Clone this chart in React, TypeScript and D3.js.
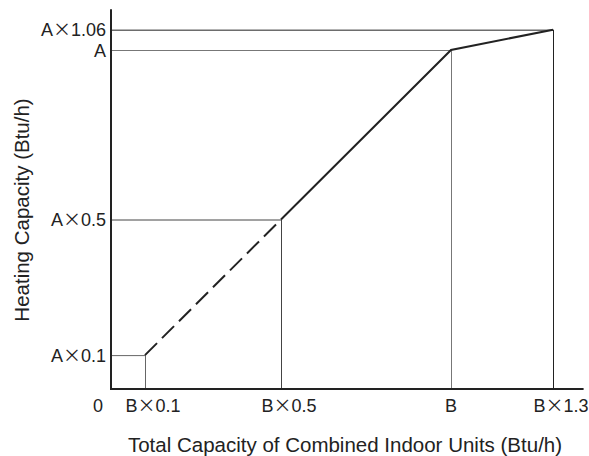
import React from "react";
import * as d3 from "d3";

const W = 589;
const H = 456;

// Data (relative units: x in multiples of B, y in multiples of A)
const curveX = [0.1, 0.5, 1.0, 1.3];
const curveY = [0.1, 0.5, 1.0, 1.06];
const dashedUntilIndex = 1; // segment 0->1 is dashed
const xTickValues = [0, 0.1, 0.5, 1.0, 1.3];
const xTickLabels = ["0", "B×0.1", "B×0.5", "B", "B×1.3"];
const yTickValues = [0.1, 0.5, 1.0, 1.06];
const yTickLabels = ["A×0.1", "A×0.5", "A", "A×1.06"];
const xTitle = "Total Capacity of Combined Indoor Units (Btu/h)";
const yTitle = "Heating Capacity (Btu/h)";

const FONT = "'Liberation Sans', Arial, Helvetica, sans-serif";
const TICK_FS = 18;

function Label({ text, x, y, anchor }: { text: string; x: number; y: number; anchor: string }) {
  const parts = text.split("×");
  if (parts.length === 1) {
    return (
      <text x={x} y={y} textAnchor={anchor} fontFamily={FONT} fontSize={TICK_FS} fill="#222">
        {text}
      </text>
    );
  }
  return (
    <text x={x} y={y} textAnchor={anchor} fontFamily={FONT} fontSize={TICK_FS} fill="#222">
      {parts[0]}
      <tspan fontFamily="'Noto Sans CJK JP'">×</tspan>
      {parts[1]}
    </text>
  );
}

export default function App() {
  const x = d3.scaleLinear().domain([0, 1]).range([111, 451]);
  const y = d3.scaleLinear().domain([0, 1]).range([389, 50]);
  const xAxisEnd = 1.39;
  const yAxisTop = 1.12;

  const pts = curveX.map((v, i) => [x(v), y(curveY[i])] as [number, number]);
  const line = d3.line();
  const dashedPath = line(pts.slice(0, dashedUntilIndex + 1)) || "";
  const solidPath = line(pts.slice(dashedUntilIndex)) || "";

  const guideColors = ["#666", "#444", "#777", "#222"];

  return (
    <svg width={W} height={H} style={{ position: "absolute", left: 0, top: 0, background: "#fff" }}>
      {curveX.map((v, i) => (
        <g key={i} stroke={guideColors[i]} strokeWidth={1} fill="none">
          <line x1={x(0)} x2={x(v)} y1={y(curveY[i]) + 0.5} y2={y(curveY[i]) + 0.5} />
          <line x1={x(v) + 0.5} x2={x(v) + 0.5} y1={y(curveY[i])} y2={y(0)} />
        </g>
      ))}
      <path d={dashedPath} stroke="#222" strokeWidth={2} fill="none" strokeDasharray="17 7" />
      <path d={solidPath} stroke="#222" strokeWidth={2} fill="none" strokeLinejoin="miter" />
      <line x1={x(0)} x2={x(xAxisEnd)} y1={y(0)} y2={y(0)} stroke="#222" strokeWidth={2} />
      <line x1={x(0)} x2={x(0)} y1={y(0) + 1} y2={y(yAxisTop)} stroke="#222" strokeWidth={2} />
      {xTickValues.map((v, i) => {
        const hasTimes = xTickLabels[i].includes("×");
        const cx = v === 0 ? x(0) - 13 : x(v) + (hasTimes ? 8 : 0);
        return <Label key={"x" + i} text={xTickLabels[i]} x={cx} y={412} anchor="middle" />;
      })}
      {yTickValues.map((v, i) => (
        <Label key={"y" + i} text={yTickLabels[i]} x={106} y={y(v) + 6.5} anchor="end" />
      ))}
      <text x={345} y={452} textAnchor="middle" fontFamily={FONT} fontSize={20.5} fill="#222">
        {xTitle}
      </text>
      <text
        transform={`translate(29,${210}) rotate(-90)`}
        textAnchor="middle"
        fontFamily={FONT}
        fontSize={20.5}
        fill="#222"
      >
        {yTitle}
      </text>
    </svg>
  );
}
